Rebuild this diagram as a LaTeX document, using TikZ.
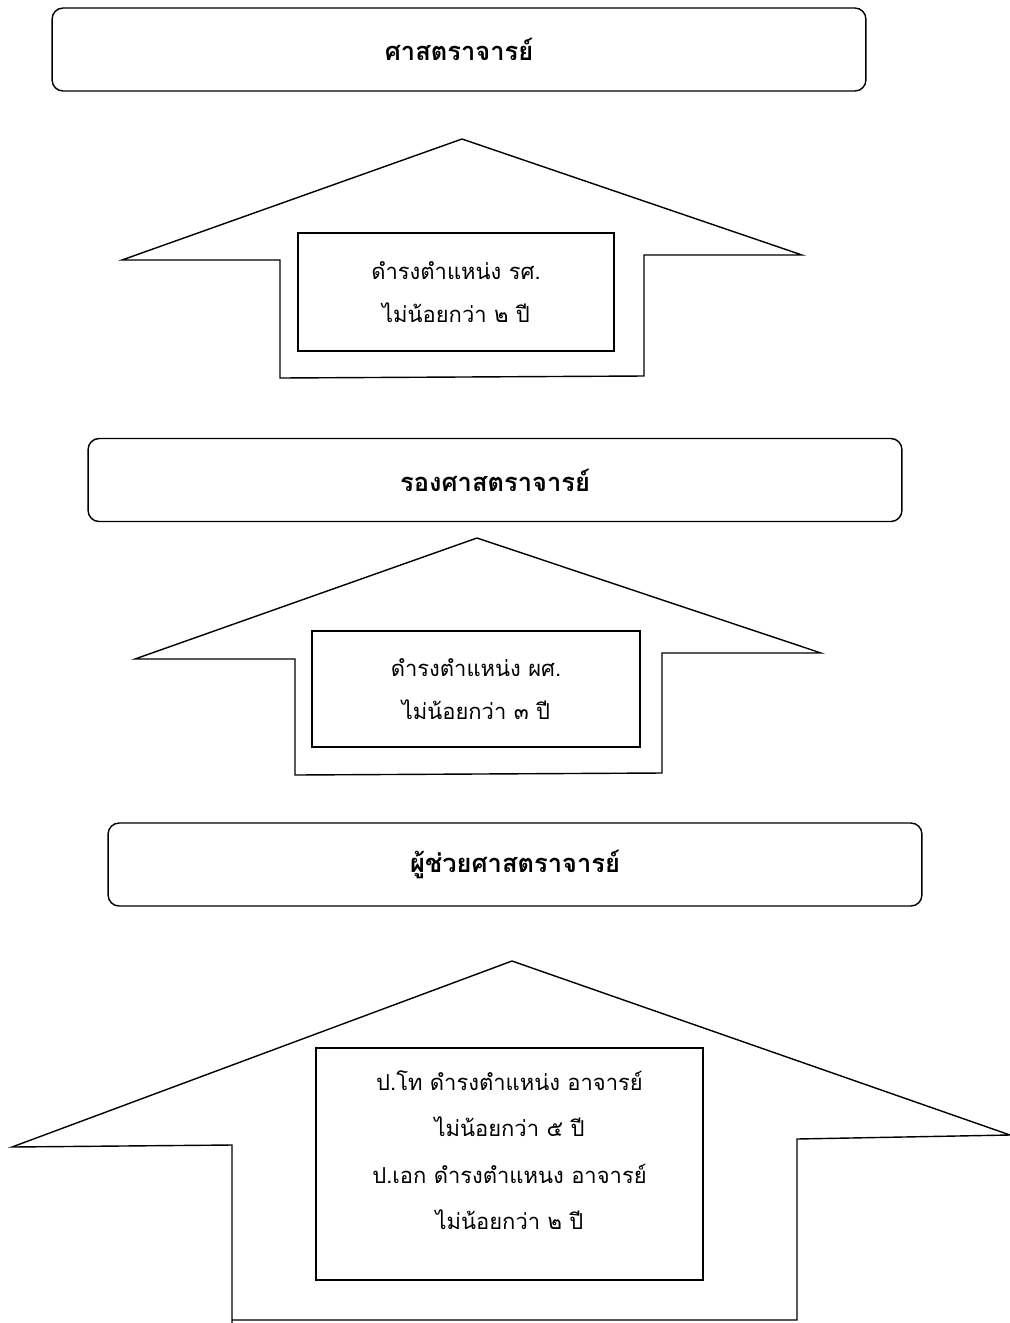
\documentclass[tikz,border=0pt]{standalone}
\usepackage{fontspec}
\newfontfamily\thaifont[Script=Thai]{Loma}
\usepackage{tikz}
\usetikzlibrary{positioning}
\tikzset{>=stealth}
\tikzset{
  rankbox/.style={draw, line width=0.8pt, rounded corners=0.22cm, minimum width=16.28cm, minimum height=1.66cm, font=\thaifont\bfseries\fontsize{14.5}{17}\selectfont},
  rulebox/.style={draw, line width=0.8pt, align=center, font=\thaifont\fontsize{12.5}{24.5}\selectfont},
  uparrow/.style={draw, line width=0.8pt, line join=miter}
}

\begin{document}
\begin{tikzpicture}[x=0.02cm, y=-0.02cm]
	\useasboundingbox (0,0) rectangle (1010,1323);
	% ranks
	\node [rankbox] (prof) at (459,49.5) {ศาสตราจารย์};
	\node [rankbox] (assoc) at (495,480) {รองศาสตราจารย์};
	\node [rankbox] (asst) at (515,864.5) {ผู้ช่วยศาสตราจารย์};
	% arrows
	\draw [uparrow] (280,378) -- (280,260) -- (122,260) -- (462,139) -- (802,255) -- (644,255) -- (644,376) -- cycle;
	\draw [uparrow] (295,775) -- (295,659) -- (135,659) -- (477,538) -- (821,653) -- (662,653) -- (662,773) -- cycle;
	\draw [uparrow] (232,1323) -- (232,1145) -- (12,1147) -- (512,961) -- (1010,1135) -- (797,1139) -- (797,1320) -- (232,1320);
	% conditions
	\node [rulebox, minimum width=6.32cm, minimum height=2.36cm] (toprof) at (456,292) {ดำรงตำแหน่ง รศ.\\ไม่น้อยกว่า ๒ ปี};
	\node [rulebox, minimum width=6.56cm, minimum height=2.32cm] (toassoc) at (476,689) {ดำรงตำแหน่ง ผศ.\\ไม่น้อยกว่า ๓ ปี};
	\node [rulebox, minimum width=7.74cm, minimum height=4.64cm, text depth=0.55cm, font=\thaifont\fontsize{12.5}{26.5}\selectfont] (toasst) at (509.5,1164) {ป.โท ดำรงตำแหน่ง อาจารย์\\ไม่น้อยกว่า ๕ ปี\\ป.เอก ดำรงตำแหนง อาจารย์\\ไม่น้อยกว่า ๒ ปี};
\end{tikzpicture}
\end{document}
